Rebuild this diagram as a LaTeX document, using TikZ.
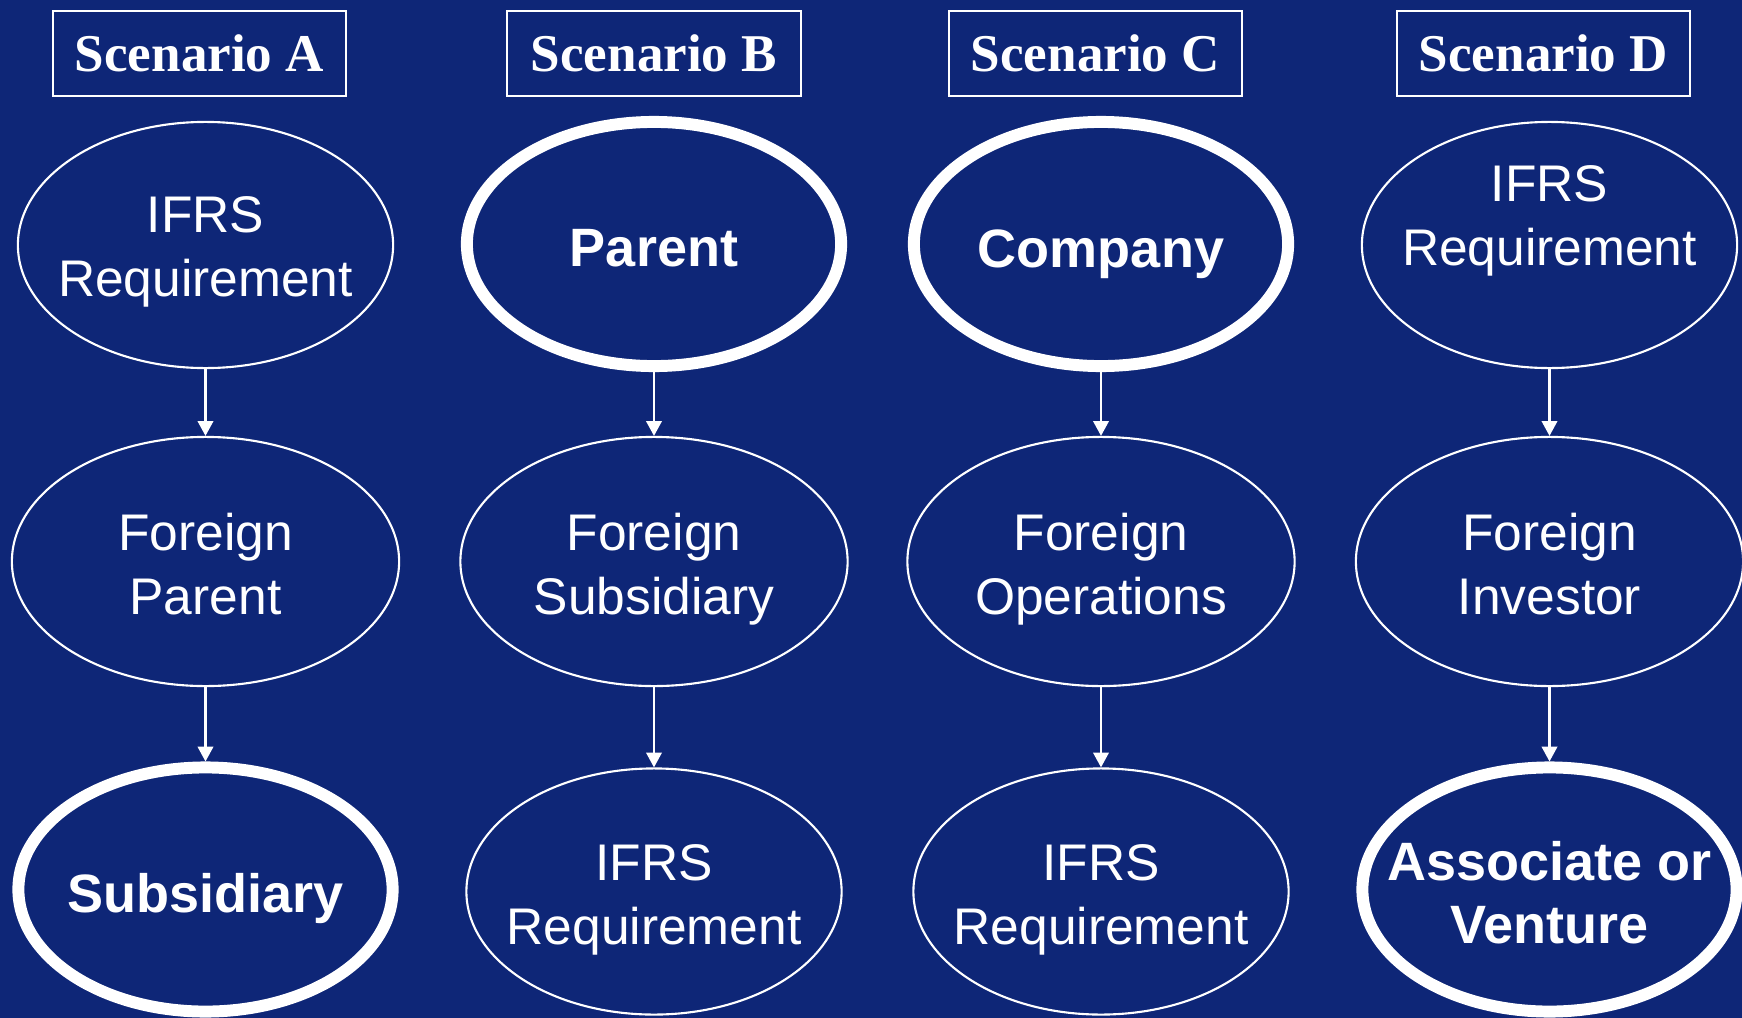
\documentclass[tikz,border=0pt]{standalone}
\usepackage{fontspec}
\setmainfont{Liberation Serif}
\setsansfont{Liberation Sans}
\usetikzlibrary{shapes.geometric,arrows.meta}
\definecolor{bgblue}{RGB}{14,38,119}
\begin{document}
\begin{tikzpicture}[x=0.01cm,y=-0.01cm,
  titlebox/.style={draw=white,line width=0.6pt,minimum width=2.93cm,minimum height=0.85cm,inner sep=0pt,text=white,font=\fontsize{15.1pt}{18pt}\selectfont\bfseries},
  ell/.style={ellipse,draw=white,line width=0.6pt,minimum width=3.75cm,minimum height=2.46cm,inner sep=0pt},
  ellwide/.style={ell,minimum width=3.87cm,minimum height=2.49cm},
  ellthick/.style={ell,line width=3.4pt,minimum width=3.74cm,minimum height=2.44cm},
  txt/.style={text=white,align=center,inner sep=0pt,font=\sffamily\fontsize{14.65pt}{18.2pt}\selectfont},
  btxt/.style={txt,font=\sffamily\bfseries\fontsize{15.36pt}{17.9pt}\selectfont},
  conn/.style={draw=white,line width=0.6pt,-{Triangle[length=4.2pt,width=4.4pt]}}
]
\useasboundingbox (0,0) rectangle (1742,1018);
\fill[bgblue] (0,0) rectangle (1742,1018);

% titles
\node[titlebox] (tA) at (199.5,53.5) {Scenario A};
\node[titlebox] (tB) at (654,53.5) {Scenario B};
\node[titlebox] (tC) at (1095.5,53.5) {Scenario C};
\node[titlebox] (tD) at (1543.5,53.5) {Scenario D};

% row 1
\node[ell] (a1) at (205.5,245) {};
\node[ellthick] (b1) at (654,244) {};
\node[ellthick] (c1) at (1101,244) {};
\node[ell] (d1) at (1549.5,245) {};
% row 2
\node[ellwide] (a2) at (205.5,561.5) {};
\node[ellwide] (b2) at (654,561.5) {};
\node[ellwide] (c2) at (1101,561.5) {};
\node[ellwide] (d2) at (1549.5,561.5) {};
% row 3
\node[ellthick] (a3) at (205.5,889.5) {};
\node[ell] (b3) at (654,891.5) {};
\node[ell] (c3) at (1101,891.5) {};
\node[ellthick] (d3) at (1549.5,889.5) {};

% texts
\node[txt] (a1t) at (205.5,252) {IFRS\\Requirement};
\node[btxt] (b1t) at (654,248.5) {Parent};
\node[btxt] (c1t) at (1101,254) {Company};
\node[txt] (d1t) at (1549.5,220.5) {IFRS\\Requirement};

\node[txt] (a2t) at (205.5,564) {Foreign\\Parent};
\node[txt] (b2t) at (654,569) {Foreign\\Subsidiary};
\node[txt] (c2t) at (1101,569) {Foreign\\Operations};
\node[txt] (d2t) at (1549.5,564) {Foreign\\Investor};

\node[btxt] (a3t) at (205.5,898.5) {Subsidiary};
\node[txt] (b3t) at (654,899.5) {IFRS\\Requirement};
\node[txt] (c3t) at (1101,899.5) {IFRS\\Requirement};
\node[btxt] (d3t) at (1549.5,893) {Associate or\\Venture};

% connectors
\draw[conn] (a1.south) -- (a2.north);
\draw[conn] (a2.south) -- (a3.north);
\draw[conn] (b1.south) -- (b2.north);
\draw[conn] (b2.south) -- (b3.north);
\draw[conn] (c1.south) -- (c2.north);
\draw[conn] (c2.south) -- (c3.north);
\draw[conn] (d1.south) -- (d2.north);
\draw[conn] (d2.south) -- (d3.north);
\end{tikzpicture}
\end{document}
